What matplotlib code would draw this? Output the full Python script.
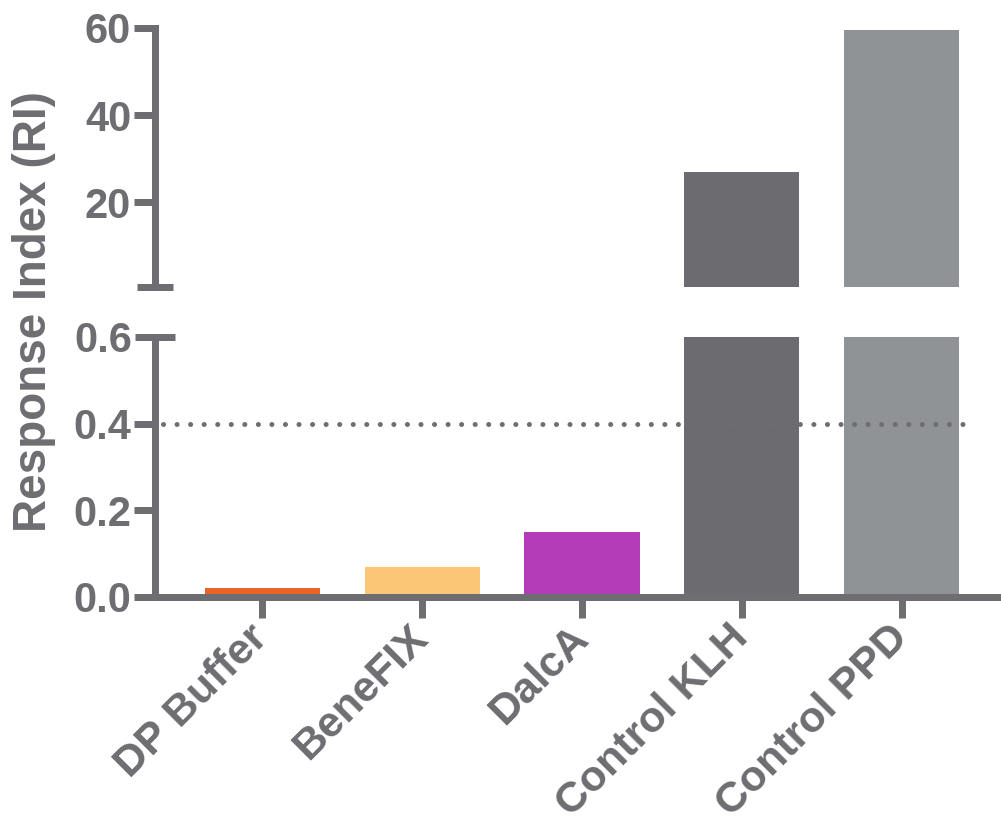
import matplotlib
matplotlib.use("Agg")
import matplotlib.pyplot as plt

# Data
categories = ["DP Buffer", "BeneFIX", "DalcA", "Control KLH", "Control PPD"]
response_index = [0.02, 0.07, 0.15, 27.0, 59.6]
bar_colors = ["#E8642B", "#FBC676", "#B33CB9", "#6C6B70", "#909396"]
threshold = 0.4
low_ticks = [0.0, 0.2, 0.4]
low_tick_labels = ["0.0", "0.2", "0.4"]
low_top = 0.6
high_ticks = [20, 40, 60]
high_floor = 0.5
high_top = 60

INK = "#6D6D72"
PX = 72 / 100  # points per pixel at dpi 100

plt.rcParams["font.family"] = ["Liberation Sans", "DejaVu Sans"]
plt.rcParams["font.weight"] = "bold"

fig = plt.figure(figsize=(10.01, 8.26), dpi=100)
W, H = 1001, 826
left = 155 / W
ax_hi = fig.add_axes([left, 1 - 287 / H, 1 - left, (287 - 28) / H])
ax_lo = fig.add_axes([left, 1 - 597 / H, 1 - left, (597 - 337) / H])

x = list(range(len(categories)))
for ax in (ax_hi, ax_lo):
    ax.bar(x, response_index, width=0.72, color=bar_colors, zorder=2)
    ax.set_xlim(-0.67, 4.62)
    ax.patch.set_alpha(0)
    for s in ("top", "right"):
        ax.spines[s].set_visible(False)
    for s in ("left", "bottom"):
        ax.spines[s].set_color(INK)
        ax.spines[s].set_linewidth(7 * PX)
    ax.tick_params(axis="y", which="major", direction="out", length=21 * PX,
                   width=7 * PX, color=INK, labelcolor=INK, labelsize=30, pad=2)
    ax.tick_params(axis="y", which="minor", direction="inout",
                   width=7 * PX, color=INK, labelcolor=INK, labelsize=30, pad=2)

# Upper panel (large values)
ax_hi.spines["bottom"].set_visible(False)
ax_hi.set_ylim(high_floor, high_top)
ax_hi.set_yticks(high_ticks)
ax_hi.set_yticks([high_floor], minor=True)
ax_hi.tick_params(axis="y", which="minor", length=36 * PX, labelleft=False)
ax_hi.set_xticks([])

# Lower panel (small values)
ax_lo.set_ylim(0, low_top)
ax_lo.set_yticks(low_ticks, low_tick_labels)
ax_lo.set_yticks([low_top], ["0.6"], minor=True)
ax_lo.tick_params(axis="y", which="minor", length=40 * PX)
ax_lo.set_xticks(x, categories, rotation=45, ha="right", va="center",
                 rotation_mode="anchor", fontsize=31, color=INK)
ax_lo.tick_params(axis="x", direction="out", length=21 * PX, width=7 * PX,
                  color=INK, pad=10)

ax_lo.axhline(threshold, xmin=0.01, xmax=0.957, color=INK, lw=5 * PX,
              dashes=(0.01, 2.7), dash_capstyle="round", zorder=3)

fig.text(34 / W, 1 - 312 / H, "Response Index (RI)", rotation=90,
         ha="center", va="center", fontsize=33, color=INK, weight="bold")

fig.savefig("out.png", dpi=100)
